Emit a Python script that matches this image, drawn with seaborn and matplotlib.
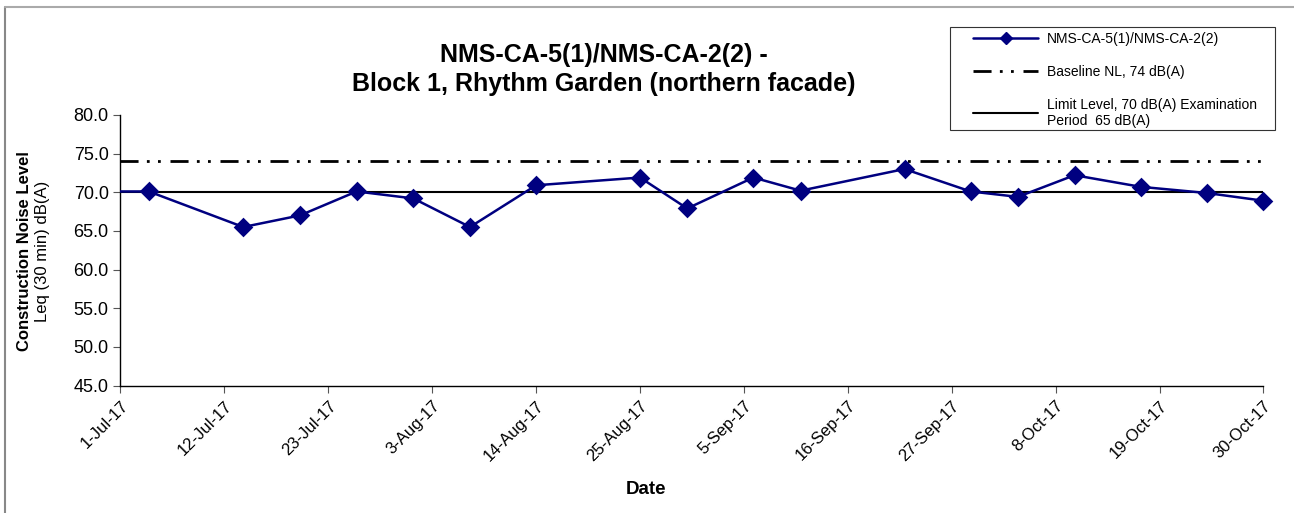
import pandas as pd
import numpy as np
import matplotlib
matplotlib.use("Agg")
import matplotlib.pyplot as plt
from matplotlib.lines import Line2D
from matplotlib.patches import Rectangle
import seaborn as sns

dates = ["2017-06-28", "2017-07-04", "2017-07-14", "2017-07-20", "2017-07-26",
         "2017-08-01", "2017-08-07", "2017-08-14", "2017-08-25", "2017-08-30",
         "2017-09-06", "2017-09-11", "2017-09-22", "2017-09-29", "2017-10-04",
         "2017-10-10", "2017-10-17", "2017-10-24", "2017-10-30"]
levels = [70.1, 70.1, 65.5, 67.0, 70.1, 69.2, 65.5, 70.9, 71.9, 67.9,
          71.9, 70.2, 73.0, 70.1, 69.4, 72.2, 70.7, 69.9, 68.9]

baseline = 74.0
limit = 70.0

x_start = pd.Timestamp("2017-07-01")
x_end = pd.Timestamp("2017-10-30")
tick_dates = pd.date_range(x_start, x_end, freq="11D")
y_ticks = [45, 50, 55, 60, 65, 70, 75, 80]

series_name = "NMS-CA-5(1)/NMS-CA-2(2)"
baseline_label = "Baseline NL, 74 dB(A)"
limit_label = "Limit Level, 70 dB(A) Examination\nPeriod  65 dB(A)"

df = pd.DataFrame({"date": pd.to_datetime(dates), "level": levels})
in_range = df[df["date"] >= x_start]

sns.set_style("white")
plt.rcParams["font.family"] = ["Liberation Sans", "DejaVu Sans"]
plt.rcParams["text.color"] = "black"
plt.rcParams["xtick.color"] = "black"
plt.rcParams["ytick.color"] = "black"

fig = plt.figure(figsize=(12.94, 5.13), dpi=100)
ax = fig.add_axes([0.0931, 0.2485, 0.8833, 0.5275])

navy = "#000080"
dashdotdot = (0, (6.5, 3, 1, 3, 1, 3.5))
ax.axhline(baseline, color="black", lw=2.0, linestyle=dashdotdot, zorder=2)
ax.axhline(limit, color="black", lw=1.5, zorder=2)

sns.lineplot(data=df, x="date", y="level", ax=ax, color=navy, lw=1.8, zorder=3)
sns.scatterplot(data=in_range, x="date", y="level", ax=ax, color=navy,
                marker="D", s=100, edgecolor=navy, linewidth=0, zorder=4,
                clip_on=False)

ax.set_xlim(x_start, x_end)
ax.set_ylim(45, 80)
ax.set_yticks(y_ticks)
ax.set_yticklabels([f"{v:.1f}" for v in y_ticks], fontsize=13)
ax.set_xticks(tick_dates)
ax.set_xticklabels([f"{d.day}-{d.strftime('%b')}-17" for d in tick_dates],
                   rotation=45, ha="right", rotation_mode="anchor", fontsize=12)
ax.tick_params(axis="both", direction="out", length=5, width=0.8, color="#555555",
               labelcolor="black", bottom=True, left=True)
ax.tick_params(axis="x", pad=4)

for side in ["top", "right"]:
    ax.spines[side].set_visible(False)
for side in ["left", "bottom"]:
    ax.spines[side].set_color("black")
    ax.spines[side].set_linewidth(1.0)

ax.set_xlabel("")
ax.set_ylabel("")

fig.text(0.499, 0.045, "Date", ha="center", va="center", fontsize=13.5,
         fontweight="bold", color="black")
fig.text(0.019, 0.51, "Construction Noise Level", rotation=90, ha="center",
         va="center", fontsize=12, fontweight="bold", color="black")
fig.text(0.0325, 0.51, "Leq (30 min) dB(A)", rotation=90, ha="center",
         va="center", fontsize=12, color="black")

fig.text(0.4664, 0.893, "NMS-CA-5(1)/NMS-CA-2(2) -", ha="center", va="center",
         fontsize=18, fontweight="bold", color="black")
fig.text(0.4664, 0.836, "Block 1, Rhythm Garden (northern facade)", ha="center",
         va="center", fontsize=18, fontweight="bold", color="black")

# legend: frame drawn separately, entries placed inside it
fig.add_artist(Rectangle((950 / 1294, 1 - 130 / 513), 325 / 1294, 103 / 513,
                         transform=fig.transFigure, fill=False,
                         edgecolor="#333333", lw=0.8))
handles = [
    Line2D([], [], color=navy, lw=1.8, marker="D", markersize=6.5),
    Line2D([], [], color="black", lw=2.0, linestyle=dashdotdot),
    Line2D([], [], color="black", lw=1.5),
]
leg = fig.legend(handles, [series_name, baseline_label, limit_label],
                 loc="upper left", bbox_to_anchor=(973 / 1294, 1 - 32 / 513),
                 fontsize=10, frameon=False, handlelength=4.7, borderpad=0,
                 borderaxespad=0, labelspacing=1.35, handletextpad=0.6)
for t in leg.get_texts():
    t.set_color("black")

# outer chart-area border (top and left visible)
fig.add_artist(Line2D([0.004, 0.004], [0.0, 0.987], transform=fig.transFigure,
                      color="#888888", lw=1.5))
fig.add_artist(Line2D([0.004, 1.0], [0.987, 0.987], transform=fig.transFigure,
                      color="#aaaaaa", lw=1.5))

fig.savefig("out.png", dpi=100)
